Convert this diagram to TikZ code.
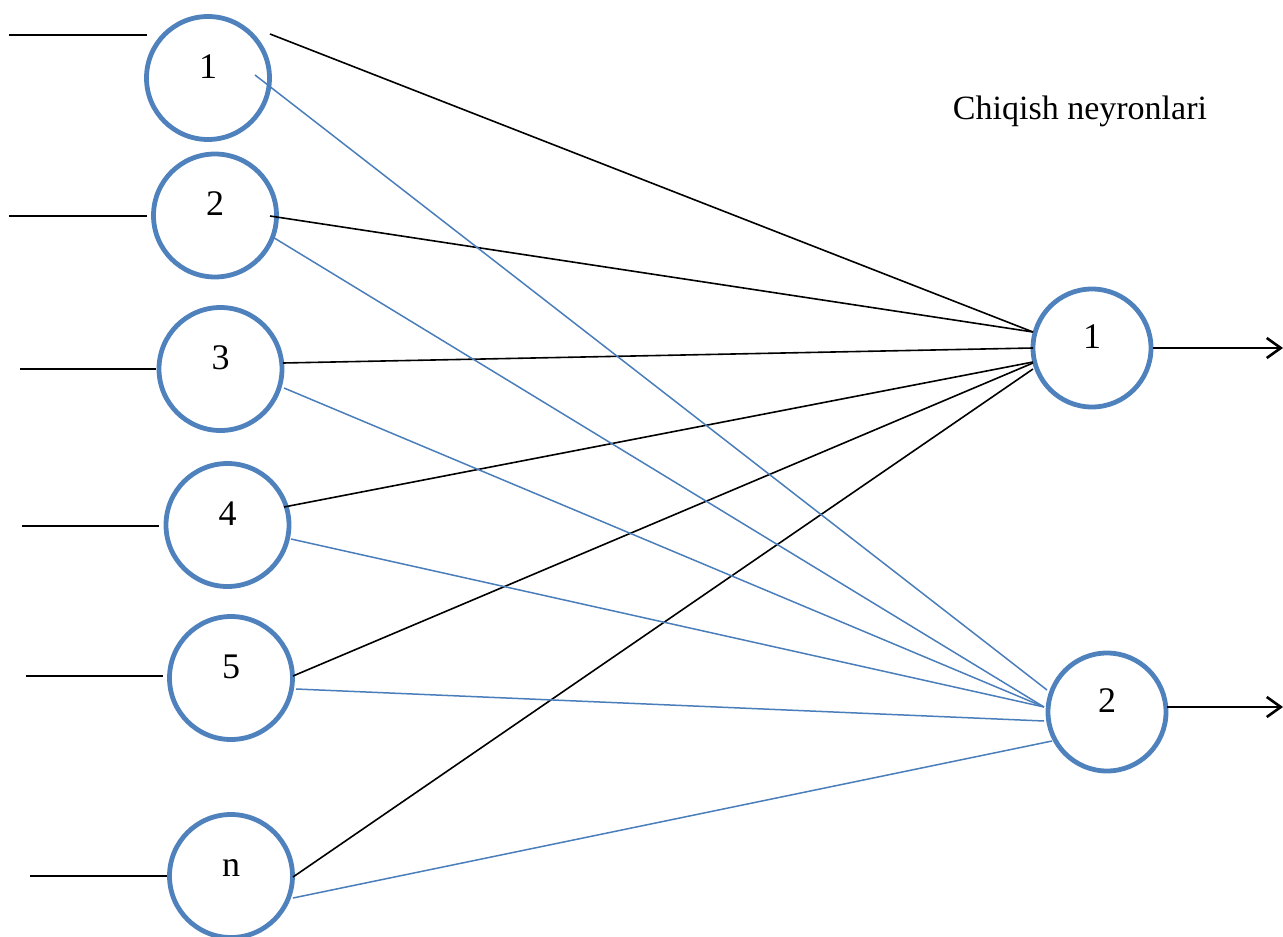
\documentclass[tikz,border=0pt]{standalone}
\usepackage{fontspec}
\setmainfont{Liberation Serif}
\usetikzlibrary{calc,arrows.meta}
\definecolor{nblue}{HTML}{4F81BD}
\definecolor{lblue}{HTML}{4A7EBB}
\begin{document}
\begin{tikzpicture}[x=1pt,y=-1pt,
  neuron/.style={circle,draw=nblue,line width=4.8pt,minimum size=123pt,inner sep=0pt,
    font=\fontsize{36}{40}\selectfont,text height=25pt,text depth=25pt},
  outneuron/.style={neuron,minimum size=118pt},
  inline/.style={line width=2pt,black},
  kline/.style={line width=1.6pt,black},
  bline/.style={line width=1.5pt,lblue},
  outarrow/.style={line width=2.2pt,black,-{Straight Barb[length=14pt,width=20pt,line width=2.6pt]}},
  caption/.style={font=\fontsize{34}{40}\selectfont,anchor=base}]
\useasboundingbox (0,0) rectangle (1283,937);
\clip (0,0) rectangle (1283,937);

% neurons
\node[neuron] (i1) at (208,78) {1};
\node[neuron] (i2) at (215,215.5) {2};
\node[neuron] (i3) at (220.5,369) {3};
\node[neuron] (i4) at (227.5,525) {4};
\node[neuron] (i5) at (231,678) {5};
\node[neuron] (in) at (231,876) {n};
\node[outneuron] (o1) at (1092,348) {1};
\node[outneuron] (o2) at (1107,712) {2};

\node[caption] (cap) at (1080,119) {Chiqish neyronlari};

% input line coordinates
\coordinate (s1) at (9,35);
\coordinate (s2) at (9,216);
\coordinate (s3) at (20,369);
\coordinate (s4) at (22,526);
\coordinate (s5) at (26,676);
\coordinate (sn) at (30,876);
\draw[inline] (s1) -- ($(i1)+(-61,-43)$);
\draw[inline] (s2) -- ($(i2)+(-68,0.5)$);
\draw[inline] (s3) -- ($(i3)+(-64.5,0)$);
\draw[inline] (s4) -- ($(i4)+(-68.5,1)$);
\draw[inline] (s5) -- ($(i5)+(-68,-2)$);
\draw[inline] (sn) -- ($(in)+(-64,0)$);

% black connectors to output 1
\draw[kline] ($(i1)+(62,-44)$) -- ($(o1)+(-59,-16)$);
\draw[kline] ($(i2)+(55,0.5)$) -- ($(o1)+(-59,-16)$);
\draw[kline] ($(i3)+(62.5,-6)$) -- ($(o1)+(-59,0)$);
\draw[kline] ($(i4)+(56.5,-18)$) -- ($(o1)+(-59,14)$);
\draw[kline] ($(i5)+(62,-2)$) -- ($(o1)+(-59,15)$);
\draw[kline] ($(in)+(62,1)$) -- ($(o1)+(-59,21)$);

% blue connectors to output 2
\draw[bline] ($(i1)+(47,-3)$) -- ($(o2)+(-60,-22)$);
\draw[bline] ($(i2)+(56,20.5)$) -- ($(o2)+(-63,-5)$);
\draw[bline] ($(i3)+(63.5,19)$) -- ($(o2)+(-63,-5)$);
\draw[bline] ($(i4)+(63.5,14)$) -- ($(o2)+(-63,-5)$);
\draw[bline] ($(i5)+(65,11)$) -- ($(o2)+(-63,9)$);
\draw[bline] ($(in)+(62,22)$) -- ($(o2)+(-55,29)$);

% outputs
\coordinate (e1) at (1283,348);
\coordinate (e2) at (1283,707);
\draw[outarrow] (o1.east) -- (e1);
\draw[outarrow] ($(o2)+(60,-5)$) -- (e2);
\end{tikzpicture}
\end{document}
